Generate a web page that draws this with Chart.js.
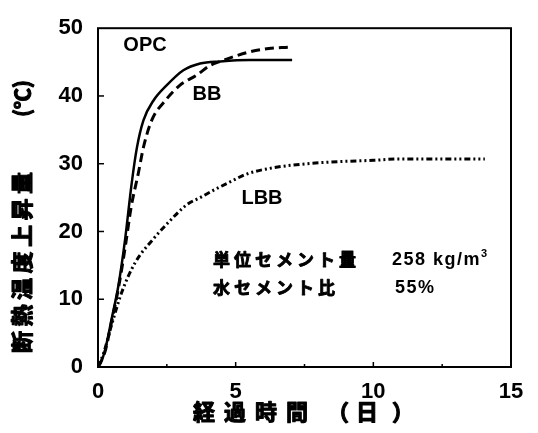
<!DOCTYPE html>
<html>
<head>
<meta charset="utf-8">
<script src="https://cdn.jsdelivr.net/npm/chart.js@4"></script>
<style>
  html, body { margin: 0; padding: 0; background: #fff; }
  #wrap { width: 538px; height: 433px; }
</style>
</head>
<body>
<div id="wrap"><canvas id="graphe"></canvas></div>
<script>
// courbes d'echauffement adiabatique (jours / degres)
var opcJours = [0, 0.1, 0.25, 0.5, 0.74, 0.98, 1.22, 1.41, 1.65, 2.01, 2.5, 3.1, 3.71, 4.44, 5.5, 7.05];
var opcTemp  = [0, 0.6, 2.4, 7.2, 12, 18.7, 27, 32.3, 36.4, 39.3, 41.6, 43.8, 44.8, 45.1, 45.3, 45.3];

var bbJours = [0, 0.25, 0.5, 0.75, 1.0, 1.2, 1.47, 1.65, 1.95, 2.44, 2.98, 3.59, 4.07, 4.44, 5, 5.5, 6.2, 6.9];
var bbTemp  = [0, 2.2, 6.8, 11.8, 18, 23.5, 28.7, 32.4, 36.4, 39.3, 41.6, 43.1, 44.5, 45.1, 45.9, 46.5, 47, 47.2];

var lbbJours = [0, 0.2, 0.5, 0.86, 1.35, 2.01, 2.5, 3.24, 3.71, 4.2, 4.69, 5.42, 6.36, 7.6, 8.7, 10, 10.9, 12, 13, 14.05];
var lbbTemp  = [0, 2, 6.3, 11, 15.4, 18.9, 21.1, 24, 25, 26.1, 27.1, 28.5, 29.4, 30, 30.3, 30.5, 30.7, 30.7, 30.7, 30.7];

var xTicks = [0, 5, 10, 15];
var yTicks = [0, 10, 20, 30, 40, 50];

function points(xs, ys) {
  return xs.map(function(x, i) { return { x: x, y: ys[i] }; });
}

var fontLat = '"Liberation Sans", Arial, sans-serif';
var fontJp = '"Noto Sans CJK JP", sans-serif';

// texte japonais epaissi (la police n'a pas de vrai gras)
function texteGras(ctx, txt, x, y) {
  ctx.fillText(txt, x, y);
  ctx.strokeText(txt, x, y);
}

// cadre, petites graduations vers l'interieur, titres et notes
var habillage = {
  id: 'habillage',
  afterDraw: function(chart) {
    var ctx = chart.ctx;
    var a = chart.chartArea;
    var sx = chart.scales.x, sy = chart.scales.y;
    ctx.save();
    ctx.strokeStyle = '#000';
    ctx.lineWidth = 2;
    ctx.strokeRect(a.left, a.top, a.right - a.left, a.bottom - a.top);

    ctx.lineWidth = 1.5;
    sx.ticks.forEach(function(t) {
      if (t.value <= 0 || t.value >= 15) return;
      var px = sx.getPixelForValue(t.value);
      var len = (t.value % 5 === 0) ? 5 : 3;
      ctx.beginPath();
      ctx.moveTo(px, a.bottom);
      ctx.lineTo(px, a.bottom - len);
      ctx.stroke();
    });
    sy.ticks.forEach(function(t) {
      if (t.value <= 0 || t.value >= 50) return;
      var py = sy.getPixelForValue(t.value);
      ctx.beginPath();
      ctx.moveTo(a.left, py);
      ctx.lineTo(a.left + 6, py);
      ctx.stroke();
    });

    ctx.fillStyle = '#000';
    ctx.textBaseline = 'middle';
    ctx.lineJoin = 'round';
    ctx.lineWidth = 1.1;

    // titre axe y
    ctx.save();
    ctx.translate(22, 353);
    ctx.rotate(-Math.PI / 2);
    ctx.textAlign = 'left';
    ctx.font = 'bold 22px ' + fontJp;
    ctx.letterSpacing = '4.5px';
    texteGras(ctx, '断熱温度上昇量', 0, 0);
    ctx.letterSpacing = '0px';
    ctx.font = 'bold 21px ' + fontJp;
    texteGras(ctx, '(℃)', 236, 0);
    ctx.restore();

    // titre axe x
    ctx.textAlign = 'left';
    ctx.font = 'bold 22px ' + fontJp;
    ctx.letterSpacing = '9px';
    texteGras(ctx, '経過時間', 193, 412);
    ctx.letterSpacing = '0px';
    texteGras(ctx, '（', 327, 412);
    texteGras(ctx, '日', 356, 412);
    texteGras(ctx, '）', 392, 412);

    // noms des courbes
    ctx.textAlign = 'center';
    ctx.font = 'bold 20px ' + fontLat;
    ctx.fillText('OPC', 145, 45);
    ctx.fillText('BB', 207, 94);
    ctx.fillText('LBB', 262, 198);

    // conditions du melange
    ctx.textAlign = 'left';
    ctx.font = 'bold 17px ' + fontJp;
    ctx.letterSpacing = '4px';
    ctx.lineWidth = 0.9;
    texteGras(ctx, '単位セメント量', 213, 260);
    texteGras(ctx, '水セメント比', 213, 288);
    ctx.letterSpacing = '1.5px';
    ctx.font = 'bold 18px ' + fontLat;
    ctx.fillText('258 kg/m', 392, 260);
    var w = ctx.measureText('258 kg/m').width;
    ctx.font = 'bold 11px ' + fontLat;
    ctx.fillText('3', 392 + w, 254);
    ctx.font = 'bold 18px ' + fontLat;
    ctx.fillText('55%', 395, 288);
    ctx.restore();
  }
};

var ctx1 = document.getElementById('graphe').getContext('2d');
var monGraphe = new Chart(ctx1, {
  type: 'line',
  data: {
    datasets: [{
      label: 'OPC',
      data: points(opcJours, opcTemp),
      borderColor: '#000',
      borderWidth: 2.5,
      pointRadius: 0,
      cubicInterpolationMode: 'monotone'
    }, {
      label: 'BB',
      data: points(bbJours, bbTemp),
      borderColor: '#000',
      borderWidth: 3,
      borderDash: [9, 5],
      pointRadius: 0,
      cubicInterpolationMode: 'monotone'
    }, {
      label: 'LBB',
      data: points(lbbJours, lbbTemp),
      borderColor: '#000',
      borderWidth: 3,
      borderDash: [6, 3, 2, 3, 2, 3],
      pointRadius: 0,
      cubicInterpolationMode: 'monotone'
    }]
  },
  options: {
    responsive: true,
    maintainAspectRatio: false,
    animation: false,
    layout: { padding: { left: 0, right: 27, top: 18, bottom: 0 } },
    plugins: {
      legend: { display: false },
      tooltip: { enabled: false }
    },
    scales: {
      x: {
        type: 'linear',
        min: 0,
        max: 15,
        afterFit: function(s) { s.height = 66; },
        afterBuildTicks: function(s) {
          s.ticks = [0, 2.5, 5, 7.5, 10, 12.5, 15].map(function(v) { return { value: v }; });
        },
        grid: { display: false, drawTicks: false },
        border: { display: false },
        ticks: {
          padding: 12,
          color: '#000',
          font: { family: fontLat, size: 22, weight: 'bold' },
          callback: function(v) { return xTicks.indexOf(v) >= 0 ? v : ''; }
        }
      },
      y: {
        min: 0,
        max: 50,
        afterFit: function(s) { s.width = 98; },
        grid: { display: false, drawTicks: false },
        border: { display: false },
        ticks: {
          stepSize: 10,
          padding: 15,
          color: '#000',
          font: { family: fontLat, size: 22, weight: 'bold' },
          callback: function(v) { return yTicks.indexOf(v) >= 0 ? v : ''; }
        }
      }
    }
  },
  plugins: [habillage]
});
</script>
</body>
</html>
